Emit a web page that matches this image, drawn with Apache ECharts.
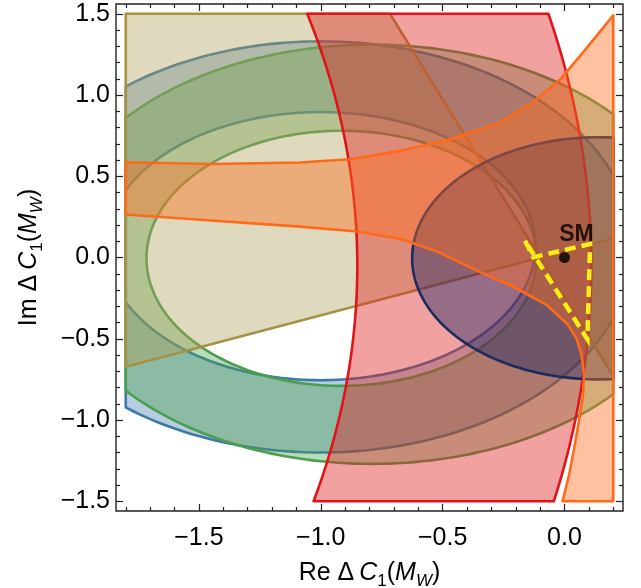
<!DOCTYPE html>
<html>
<head>
<meta charset="utf-8">
<script src="https://cdn.jsdelivr.net/npm/echarts@6/dist/echarts.min.js"></script>
<style>
  html, body { margin: 0; padding: 0; background: #fff; }
  #chart { width: 641px; height: 588px; }
</style>
</head>
<body>
<div id="chart"></div>
<script>
// region plot domain and padded frame range
const xDomain = [-1.8, 0.2];
const yDomain = [-1.5, 1.5];
const xRange = [-1.84, 0.24];
const yRange = [-1.56, 1.56];

const xMajor = [-1.5, -1.0, -0.5, 0.0];
const yMajor = [-1.5, -1.0, -0.5, 0.0, 0.5, 1.0, 1.5];
const xMinor = [-1.8, -1.7, -1.6, -1.4, -1.3, -1.2, -1.1, -0.9, -0.8, -0.7, -0.6, -0.4, -0.3, -0.2, -0.1, 0.1, 0.2];
const yMinor = [-1.4, -1.3, -1.2, -1.1, -0.9, -0.8, -0.7, -0.6, -0.4, -0.3, -0.2, -0.1,
                0.1, 0.2, 0.3, 0.4, 0.6, 0.7, 0.8, 0.9, 1.1, 1.2, 1.3, 1.4];

// ellipses: [centre x, centre y, semi-axis x, semi-axis y]
const blueOuter = [-1.0, 0.065, 1.28, 1.265];
const blueInner = [-1.0, 0.07, 0.88, 0.825];
const greenOuter = [-0.79, 0.02, 1.33, 1.29];
const greenInner = [-0.915, -0.005, 0.80, 0.785];
const navyEllipse = [0.14, -0.005, 0.765, 0.745];

// red band: two concentric circles
const redCentre = [-6.8, -0.05];
const redRadii = [5.95, 6.91];

// khaki double wedge: vertex and one point on each edge
const khakiVertex = [-0.1, 0.0];
const khakiEdges = [[-1.8, -0.673], [-0.716, 1.5]];

// orange band edges
const orangeUpper = [[-1.8, 0.586], [-1.45, 0.575], [-1.086, 0.585], [-0.88, 0.605], [-0.675, 0.656],
  [-0.469, 0.728], [-0.263, 0.831], [-0.128, 0.957], [-0.016, 1.099], [0.078, 1.265], [0.2, 1.49]];
const orangeLower = [[-1.8, 0.265], [-1.45, 0.228], [-1.086, 0.19], [-0.85, 0.16], [-0.675, 0.115],
  [-0.52, 0.035], [-0.346, -0.09], [-0.21, -0.18], [-0.07, -0.295], [0.012, -0.41], [0.05, -0.5],
  [0.07, -0.6], [0.08, -0.72], [0.076, -0.85], [0.06, -1.0], [0.04, -1.17], [0.02, -1.33], [-0.008, -1.5]];

// yellow dashed contour and SM point
const yellowPath = [[-0.162, 0.103], [-0.128, 0.001], [0.105, 0.083], [0.094, -0.503], [-0.162, 0.103]];
const smPoint = [[0, 0]];

const FONT = 'Liberation Sans';

function ellipsePts(e, reverse) {
  const pts = [];
  const n = 240;
  for (let i = 0; i < n; i++) {
    const t = (reverse ? -1 : 1) * 2 * Math.PI * i / n;
    pts.push([e[0] + e[2] * Math.cos(t), e[1] + e[3] * Math.sin(t)]);
  }
  return pts;
}

function clipToDomain(pts) {
  const [x0, x1] = xDomain, [y0, y1] = yDomain;
  const cutX = (xc) => (a, b) => { const t = (xc - a[0]) / (b[0] - a[0]); return [xc, a[1] + t * (b[1] - a[1])]; };
  const cutY = (yc) => (a, b) => { const t = (yc - a[1]) / (b[1] - a[1]); return [a[0] + t * (b[0] - a[0]), yc]; };
  const planes = [
    [p => p[0] >= x0, cutX(x0)], [p => p[0] <= x1, cutX(x1)],
    [p => p[1] >= y0, cutY(y0)], [p => p[1] <= y1, cutY(y1)]
  ];
  let out = pts;
  for (const [inside, cut] of planes) {
    const inp = out;
    out = [];
    for (let i = 0; i < inp.length; i++) {
      const cur = inp[i], prev = inp[(i + inp.length - 1) % inp.length];
      if (inside(cur)) {
        if (!inside(prev)) out.push(cut(prev, cur));
        out.push(cur);
      } else if (inside(prev)) {
        out.push(cut(prev, cur));
      }
    }
    if (!out.length) break;
  }
  return out;
}

function wedges() {
  const v = khakiVertex;
  const dirs = khakiEdges.map(p => {
    const dx = p[0] - v[0], dy = p[1] - v[1], l = Math.hypot(dx, dy);
    return [dx / l, dy / l];
  });
  const L = 12;
  const mid = [dirs[0][0] + dirs[1][0], dirs[0][1] + dirs[1][1]];
  const one = s => [v,
    [v[0] + s * L * dirs[0][0], v[1] + s * L * dirs[0][1]],
    [v[0] + s * L * mid[0], v[1] + s * L * mid[1]],
    [v[0] + s * L * dirs[1][0], v[1] + s * L * dirs[1][1]]];
  return [clipToDomain(one(1)), clipToDomain(one(-1))];
}

function redBand() {
  const pts = [];
  const n = 200;
  for (let i = 0; i <= n; i++) {
    const t = -Math.PI / 3 + (2 * Math.PI / 3) * i / n;
    pts.push([redCentre[0] + redRadii[1] * Math.cos(t), redCentre[1] + redRadii[1] * Math.sin(t)]);
  }
  for (let i = n; i >= 0; i--) {
    const t = -Math.PI / 3 + (2 * Math.PI / 3) * i / n;
    pts.push([redCentre[0] + redRadii[0] * Math.cos(t), redCentre[1] + redRadii[0] * Math.sin(t)]);
  }
  return [clipToDomain(pts)];
}

function orangeBand() {
  const pts = orangeUpper.concat([[xDomain[1], yDomain[0]]], orangeLower.slice().reverse());
  return [clipToDomain(pts)];
}

// drawing order: blue, green, khaki, red, navy, orange
const regions = [
  { rings: [clipToDomain(ellipsePts(blueOuter)), clipToDomain(ellipsePts(blueInner, true))],
    fill: 'rgba(62,120,170,0.38)', stroke: '#3d79a6' },
  { rings: [clipToDomain(ellipsePts(greenOuter)), clipToDomain(ellipsePts(greenInner, true))],
    fill: 'rgba(72,160,72,0.38)', stroke: '#4a9e50' },
  { rings: wedges(), fill: 'rgba(175,160,90,0.4)', stroke: '#a69245' },
  { rings: redBand(), fill: 'rgba(225,30,30,0.42)', stroke: '#e0141a' },
  { rings: [clipToDomain(ellipsePts(navyEllipse))], fill: 'rgba(25,35,100,0.42)', stroke: '#1d2b5c' },
  { rings: orangeBand(), fill: 'rgba(255,110,30,0.42)', stroke: '#ff6a1a' }
];

const chart = echarts.init(document.getElementById('chart'));

const fmt = v => (v < 0 ? '\u2212' : '') + Math.abs(v).toFixed(1);
const nameRich = {
  r: { fontFamily: FONT, fontSize: 25, lineHeight: 29, verticalAlign: 'top', color: '#000' },
  i: { fontFamily: FONT, fontSize: 25, lineHeight: 29, verticalAlign: 'top', fontStyle: 'italic', color: '#000' },
  s: { fontFamily: FONT, fontSize: 17, lineHeight: 12, verticalAlign: 'bottom', color: '#000' },
  si: { fontFamily: FONT, fontSize: 17, lineHeight: 12, verticalAlign: 'bottom', fontStyle: 'italic', color: '#000' }
};

function tickAxis(dim, position, values, len, labels, extra) {
  const ax = {
    type: 'value', gridIndex: 0, position: position,
    min: dim === 'x' ? xRange[0] : yRange[0],
    max: dim === 'x' ? xRange[1] : yRange[1],
    axisLine: { show: false, onZero: false },
    splitLine: { show: false },
    axisTick: { show: true, inside: true, length: len, customValues: values,
      lineStyle: { color: '#222', width: 1.2 } },
    axisLabel: labels
      ? { show: true, customValues: values, formatter: fmt, fontFamily: FONT, fontSize: 25,
          color: '#000', margin: dim === 'x' ? 15 : 6 }
      : { show: false }
  };
  return Object.assign(ax, extra || {});
}

chart.setOption({
  animation: false,
  grid: { left: 116, top: 4, width: 507, height: 507, show: true, containLabel: false,
    outerBoundsMode: 'none',
    borderColor: '#222', borderWidth: 1.4, backgroundColor: 'transparent' },
  xAxis: [
    tickAxis('x', 'bottom', xMajor, 7, true, {
      name: '{r|Re Δ\u2009}{i|C}{s|1}{r|(}{i|M}{si|W}{r|)}',
      nameLocation: 'middle', nameGap: 50, nameTextStyle: { rich: nameRich }
    }),
    tickAxis('x', 'bottom', xMinor, 4, false),
    tickAxis('x', 'top', xMajor, 7, false),
    tickAxis('x', 'top', xMinor, 4, false)
  ],
  yAxis: [
    tickAxis('y', 'left', yMajor, 7, true, {
      name: '{r|Im Δ\u2009}{i|C}{s|1}{r|(}{i|M}{si|W}{r|)}',
      nameLocation: 'middle', nameGap: 70, nameRotate: 90, nameTextStyle: { rich: nameRich }
    }),
    tickAxis('y', 'left', yMinor, 4, false),
    tickAxis('y', 'right', yMajor, 7, false),
    tickAxis('y', 'right', yMinor, 4, false)
  ],
  series: [
    {
      type: 'custom',
      xAxisIndex: 0, yAxisIndex: 0,
      clip: false,
      silent: true,
      data: regions.map((r, i) => [i]),
      encode: { x: 0 },
      renderItem: function (params, api) {
        const reg = regions[api.value(0)];
        let d = '';
        reg.rings.forEach(ring => {
          if (!ring.length) return;
          ring.forEach((p, k) => {
            const c = api.coord(p);
            d += (k === 0 ? 'M' : 'L') + c[0].toFixed(2) + ' ' + c[1].toFixed(2) + ' ';
          });
          d += 'Z ';
        });
        return {
          type: 'path',
          shape: { pathData: d },
          style: { fill: reg.fill, stroke: reg.stroke, lineWidth: 2.6, lineJoin: 'round' }
        };
      }
    },
    {
      type: 'line',
      xAxisIndex: 0, yAxisIndex: 0,
      data: yellowPath,
      symbol: 'none',
      silent: true,
      lineStyle: { color: '#fbee14', width: 4.5, type: [11, 6], cap: 'butt', join: 'miter' },
      z: 5
    },
    {
      type: 'scatter',
      xAxisIndex: 0, yAxisIndex: 0,
      data: smPoint,
      symbolSize: 11,
      itemStyle: { color: '#000' },
      silent: true,
      label: { show: true, formatter: 'SM', position: 'top', distance: 3, offset: [12, -3],
        fontFamily: FONT, fontWeight: 'bold', fontSize: 23, color: '#000' },
      z: 6
    }
  ]
});
</script>
</body>
</html>
